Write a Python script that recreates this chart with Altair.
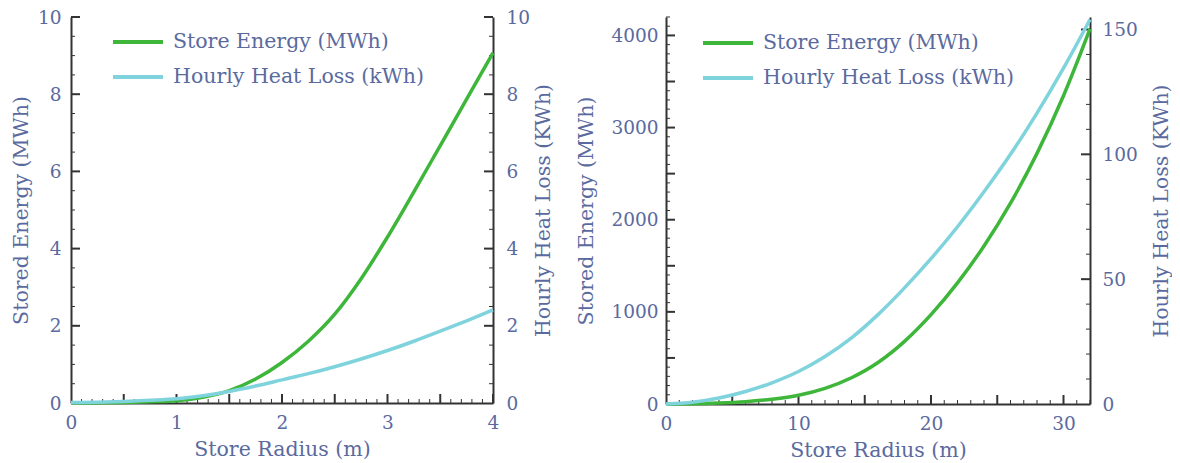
import altair as alt
import pandas as pd

# ---------------- data ----------------
SERIES = ["Store Energy (MWh)", "Hourly Heat Loss (kWh)"]

# left panel: small store (radius 0-4 m)
r_small = [0, 0.25, 0.5, 0.75, 1.0, 1.25, 1.5, 1.75, 2.0, 2.25, 2.5, 2.75, 3.0, 3.25, 3.5, 3.75, 4.0]
energy_small = [0, 0.003, 0.01, 0.03, 0.06, 0.15, 0.32, 0.62, 1.05, 1.60, 2.30, 3.22, 4.30, 5.47, 6.67, 7.87, 9.07]
loss_small = [0.01, 0.02, 0.04, 0.07, 0.11, 0.19, 0.30, 0.44, 0.60, 0.76, 0.94, 1.14, 1.36, 1.60, 1.86, 2.13, 2.41]

# right panel: large store (radius 0-32 m)
r_large = [0, 2, 4, 6, 8, 10, 12, 14, 16, 18, 20, 22, 24, 26, 28, 30, 32]
energy_large = [0, 2, 10, 25, 52, 95, 170, 285, 450, 680, 970, 1315, 1715, 2180, 2720, 3345, 4070]
loss_large = [0, 0.7, 2.4, 5.0, 8.5, 13.0, 19.0, 26.5, 35.8, 46.5, 58.2, 71, 85, 100, 116.5, 134.5, 154]

# axis label values
x_labels_small = [0, 1, 2, 3, 4]
y_labels_small = [0, 2, 4, 6, 8, 10]
x_labels_large = [0, 10, 20, 30]
yl_labels_large = [0, 1000, 2000, 3000, 4000]
yr_labels_large = [0, 50, 100, 150]

# ---------------- style ----------------
FONT = "DejaVu Serif"
TXT = "#5a6a9e"
AX = "#333333"
GREEN = "#3db63a"
CYAN = "#7fd3dc"
LFS = 18.5   # tick labels
TFS = 20.5   # axis titles
GFS = 20.5   # legend labels


def steps(lo, hi, step, skip_every=None):
    n = int(round((hi - lo) / step))
    out = []
    for i in range(n + 1):
        if skip_every and i % skip_every == 0:
            continue
        out.append(round(lo + i * step, 4))
    return out


def panel(r, energy, loss, x_dom, yl_dom, yr_dom, W, H,
          x_labels, x_major, x_minor,
          yl_labels, yl_major, yl_minor,
          yr_labels, yr_major, yr_minor,
          leg_x, leg_y, yl_title_pad, yr_title_pad, yl_lab_pad, yr_lab_pad):
    df_e = pd.DataFrame({"r": r, "v": energy, "series": SERIES[0]})
    df_l = pd.DataFrame({"r": r, "v": loss, "series": SERIES[1]})

    xs = alt.Scale(domain=x_dom, nice=False, zero=False)

    def yls():
        return alt.Scale(domain=yl_dom, nice=False)

    def yrs():
        return alt.Scale(domain=yr_dom, nice=False)

    color = alt.Color(
        "series:N",
        scale=alt.Scale(domain=SERIES, range=[GREEN, CYAN]),
        legend=alt.Legend(
            title=None, orient="none", legendX=leg_x, legendY=leg_y,
            symbolType="stroke", symbolSize=2500, symbolStrokeWidth=4,
            clipHeight=30, rowPadding=5, labelOffset=8,
            labelFont=FONT, labelFontSize=GFS, labelColor=TXT, labelLimit=400,
        ),
    )

    # inward-pointing minor / major tick marks, placed by the scales
    def xticks(vals, size, width):
        df = pd.DataFrame({"t": vals, "edge": [yl_dom[0]] * len(vals)})
        return alt.Chart(df).mark_tick(
            orient="vertical", size=size, thickness=width, color=AX, opacity=1, yOffset=-size / 2
        ).encode(
            x=alt.X("t:Q", scale=xs, axis=None),
            y=alt.Y("edge:Q", scale=yls(), axis=None),
        )

    def ylticks(vals, size, width):
        df = pd.DataFrame({"t": vals, "edge": [x_dom[0]] * len(vals)})
        return alt.Chart(df).mark_tick(
            orient="horizontal", size=size, thickness=width, color=AX, opacity=1, xOffset=size / 2
        ).encode(
            x=alt.X("edge:Q", scale=xs, axis=None),
            y=alt.Y("t:Q", scale=yls(), axis=None),
        )

    def yrticks(vals, size, width):
        df = pd.DataFrame({"t": vals, "edge": [x_dom[1]] * len(vals)})
        return alt.Chart(df).mark_tick(
            orient="horizontal", size=size, thickness=width, color=AX, opacity=1, xOffset=-size / 2
        ).encode(
            x=alt.X("edge:Q", scale=xs, axis=None),
            y=alt.Y("t:Q", scale=yrs(), axis=None),
        )

    ticks = [
        xticks(x_minor, 4, 1), xticks(x_major, 9, 2),
        ylticks(yl_minor, 4, 1), ylticks(yl_major, 9, 2),
        yrticks(yr_minor, 4, 1), yrticks(yr_major, 9, 2),
    ]

    line_e = alt.Chart(df_e).mark_line(strokeWidth=3.5, interpolate="monotone").encode(
        x=alt.X("r:Q", scale=xs, axis=alt.Axis(
            orient="bottom", values=x_labels, ticks=False, title="Store Radius (m)",
            labelFlush=False, labelPadding=10, titlePadding=8, domainWidth=2)),
        y=alt.Y("v:Q", scale=yls(), axis=alt.Axis(
            orient="left", values=yl_labels, ticks=False, title="Stored Energy (MWh)", format="d",
            labelPadding=yl_lab_pad, titlePadding=yl_title_pad, domainWidth=2)),
        color=color,
    )
    line_l = alt.Chart(df_l).mark_line(strokeWidth=3.5, interpolate="monotone").encode(
        x=alt.X("r:Q", scale=xs, axis=None),
        y=alt.Y("v:Q", scale=yrs(), axis=alt.Axis(
            orient="right", values=yr_labels, ticks=False, title="Hourly Heat Loss (KWh)", format="d",
            titleAngle=270, titleBaseline="top",
            labelPadding=yr_lab_pad, titlePadding=yr_title_pad, domainWidth=2)),
        color=color,
    )

    return alt.layer(*ticks, line_e, line_l).resolve_scale(
        y="independent"
    ).resolve_axis(x="independent", y="independent").properties(width=W, height=H)


left = panel(
    r_small, energy_small, loss_small, [0, 4], [0, 10], [0, 10], 422, 386,
    x_labels_small, steps(0.5, 4, 0.5), steps(0, 4, 0.1, 5),
    y_labels_small, steps(2, 10, 2), steps(0, 10, 0.5, 4),
    y_labels_small, steps(2, 10, 2), steps(0, 10, 0.5, 4),
    40, 10, 6, 4, 10, 13,
)
right = panel(
    r_large, energy_large, loss_large, [0, 32], [0, 4200], [0, 155], 424, 387,
    x_labels_large, steps(5, 30, 5), steps(0, 32, 1, 5),
    yl_labels_large, steps(500, 4000, 500), steps(0, 4200, 100, 5),
    yr_labels_large, steps(50, 150, 50), steps(0, 150, 10, 5),
    35, 11, 14, 14, 8, 12,
)

chart = alt.hconcat(left, right, spacing=21).resolve_scale(color="independent").properties(
    padding={"left": 3, "top": 0, "right": 0, "bottom": 0}
).configure_axis(
    labelFont=FONT, labelFontSize=LFS, labelColor=TXT,
    titleFont=FONT, titleFontSize=TFS, titleFontWeight="normal", titleColor=TXT,
    domainColor=AX, tickColor=AX, grid=False,
).configure_view(stroke=None)

chart.save("out.html", embed_options={"renderer": "svg", "actions": False})
